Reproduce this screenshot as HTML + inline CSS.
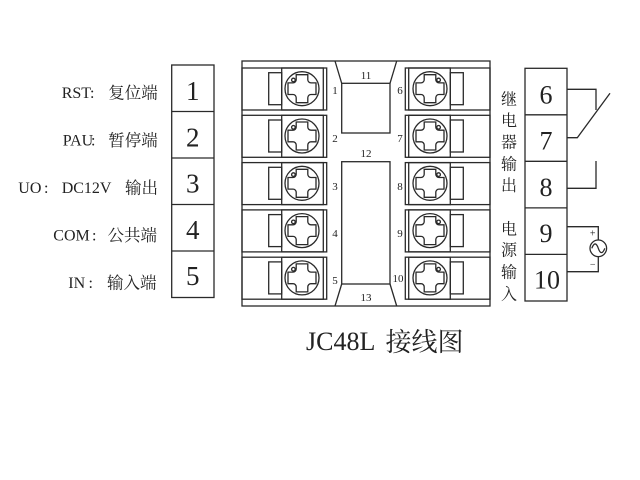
<!DOCTYPE html>
<html>
<head>
<meta charset="utf-8">
<style>
  html,body{margin:0;padding:0;background:#fff;}
  svg{display:block;}
  .s{fill:none;stroke:#2a2a2a;stroke-width:1.3;}
  .t{font-family:"Liberation Serif","Noto Serif CJK SC",serif;fill:#222;}
  .c{font-family:"Liberation Serif","Noto Serif CJK SC","Noto Sans CJK SC",serif;fill:#222;}
</style>
</head>
<body>
<svg width="640" height="480" viewBox="0 0 640 480" xmlns="http://www.w3.org/2000/svg">
  <defs>
    <g id="mod">
      <rect class="s" x="242" y="0" width="84.7" height="42"/>
      <rect class="s" x="281.7" y="0" width="41.6" height="42"/>
      <rect class="s" x="268.7" y="4.7" width="13" height="32"/>
      <circle class="s" cx="302" cy="20.7" r="17"/>
      <circle class="s" cx="293.4" cy="12" r="1.8" stroke-width="1"/>
      <path class="s" transform="translate(302,20.7)" d="M-5.8,-14 L5.8,-14 L5.8,-9 A3.2 3.2 0 0 0 9,-5.8 L14,-5.8 L14,5.8 L9,5.8 A3.2 3.2 0 0 0 5.8,9 L5.8,14 L-5.8,14 L-5.8,9 A3.2 3.2 0 0 0 -9,5.8 L-14,5.8 L-14,-5.8 L-9,-5.8 A3.2 3.2 0 0 0 -5.8,-9 Z"/>
    </g>
  </defs>

  <!-- Left labels -->
  <g class="t" font-size="16">
    <text x="61.7" y="98">RST</text><text x="90" y="98">:</text>
    <text x="62.7" y="145.5">PAU</text><text x="91" y="145.5">:</text>
    <text x="18.3" y="193">UO</text><text x="44" y="193">:</text>
    <text x="61.7" y="193">DC12V</text>
    <text x="53.3" y="240.5">COM</text><text x="92" y="240.5">:</text>
    <text x="68.3" y="288">IN</text><text x="88.5" y="288">:</text>
  </g>
  <g class="c" font-size="16.5">
    <text x="108.3" y="98.5">复位端</text>
    <text x="108.3" y="146">暂停端</text>
    <text x="125" y="193.5">输出</text>
    <text x="107.5" y="241">公共端</text>
    <text x="107" y="288.5">输入端</text>
  </g>

  <!-- Left box -->
  <rect class="s" x="171.7" y="65" width="42.3" height="232.5"/>
  <line class="s" x1="171.7" y1="111.5" x2="214" y2="111.5"/>
  <line class="s" x1="171.7" y1="158" x2="214" y2="158"/>
  <line class="s" x1="171.7" y1="204.5" x2="214" y2="204.5"/>
  <line class="s" x1="171.7" y1="251" x2="214" y2="251"/>
  <g class="t" font-size="27" text-anchor="middle">
    <text x="192.8" y="100">1</text>
    <text x="192.8" y="146.3">2</text>
    <text x="192.8" y="192.5">3</text>
    <text x="192.8" y="238.8">4</text>
    <text x="192.8" y="285">5</text>
  </g>

  <!-- Terminal block -->
  <rect class="s" x="242" y="61" width="248" height="245"/>
  <use href="#mod" transform="translate(0,68)"/>
  <use href="#mod" transform="translate(0,115.3)"/>
  <use href="#mod" transform="translate(0,162.6)"/>
  <use href="#mod" transform="translate(0,209.9)"/>
  <use href="#mod" transform="translate(0,257.2)"/>
  <g transform="matrix(-1,0,0,1,732,0)">
    <use href="#mod" transform="translate(0,68)"/>
    <use href="#mod" transform="translate(0,115.3)"/>
    <use href="#mod" transform="translate(0,162.6)"/>
    <use href="#mod" transform="translate(0,209.9)"/>
    <use href="#mod" transform="translate(0,257.2)"/>
  </g>

  <!-- middle -->
  <line class="s" x1="335" y1="61" x2="341.7" y2="83.3"/>
  <line class="s" x1="396.7" y1="61" x2="390" y2="83.3"/>
  <rect class="s" x="341.7" y="83.3" width="48.3" height="49.7"/>
  <rect class="s" x="341.7" y="161.7" width="48.3" height="122.3"/>
  <line class="s" x1="341.7" y1="284" x2="335" y2="306"/>
  <line class="s" x1="390" y1="284" x2="396.7" y2="306"/>

  <g class="t" font-size="11" text-anchor="middle">
    <text x="366" y="79">11</text>
    <text x="366" y="157">12</text>
    <text x="366" y="301">13</text>
    <text x="335" y="94">1</text>
    <text x="335" y="142">2</text>
    <text x="335" y="190">3</text>
    <text x="335" y="237">4</text>
    <text x="335" y="284">5</text>
    <text x="400" y="94">6</text>
    <text x="400" y="142">7</text>
    <text x="400" y="190">8</text>
    <text x="400" y="237">9</text>
    <text x="398" y="282">10</text>
  </g>

  <!-- Right vertical labels -->
  <g class="c" font-size="16" text-anchor="middle">
    <text x="509" y="104.3">继</text>
    <text x="509" y="126">电</text>
    <text x="509" y="147.7">器</text>
    <text x="509" y="169.4">输</text>
    <text x="509" y="191.1">出</text>
    <text x="509" y="234.3">电</text>
    <text x="509" y="255.5">源</text>
    <text x="509" y="277.7">输</text>
    <text x="509" y="299.4">入</text>
  </g>

  <!-- Right box -->
  <rect class="s" x="525" y="68.3" width="42" height="232.7"/>
  <line class="s" x1="525" y1="114.8" x2="567" y2="114.8"/>
  <line class="s" x1="525" y1="161.3" x2="567" y2="161.3"/>
  <line class="s" x1="525" y1="207.9" x2="567" y2="207.9"/>
  <line class="s" x1="525" y1="254.4" x2="567" y2="254.4"/>
  <g class="t" font-size="26" text-anchor="middle">
    <text x="546" y="103.3">6</text>
    <text x="546" y="149.5">7</text>
    <text x="546" y="195.8">8</text>
    <text x="546" y="242">9</text>
    <text x="547" y="288.3">10</text>
  </g>

  <!-- Relay -->
  <polyline class="s" points="567,89.3 596,89.3 596,110"/>
  <polyline class="s" points="567,137.7 577.3,137.7 610,93.3"/>
  <polyline class="s" points="567,188.3 596,188.3 596,161"/>

  <!-- Power -->
  <polyline class="s" points="567,226.7 598.3,226.7 598.3,240"/>
  <circle class="s" cx="598.3" cy="248.3" r="8.3"/>
  <path class="s" d="M591.8,248.3 C594,242.5 596.3,242.5 598.3,248.3 S602.6,254.1 604.8,248.3"/>
  <polyline class="s" points="598.3,256.6 598.3,271.7 567,271.7"/>
  <g class="t" font-size="10" text-anchor="middle">
    <text x="592.7" y="236.5">+</text>
    <text x="592.7" y="267.5">−</text>
  </g>

  <!-- Title -->
  <text class="t" x="306" y="350" font-size="26">JC48L</text>
  <text class="c" x="385.5" y="351" font-size="26">接线图</text>
</svg>
</body>
</html>
